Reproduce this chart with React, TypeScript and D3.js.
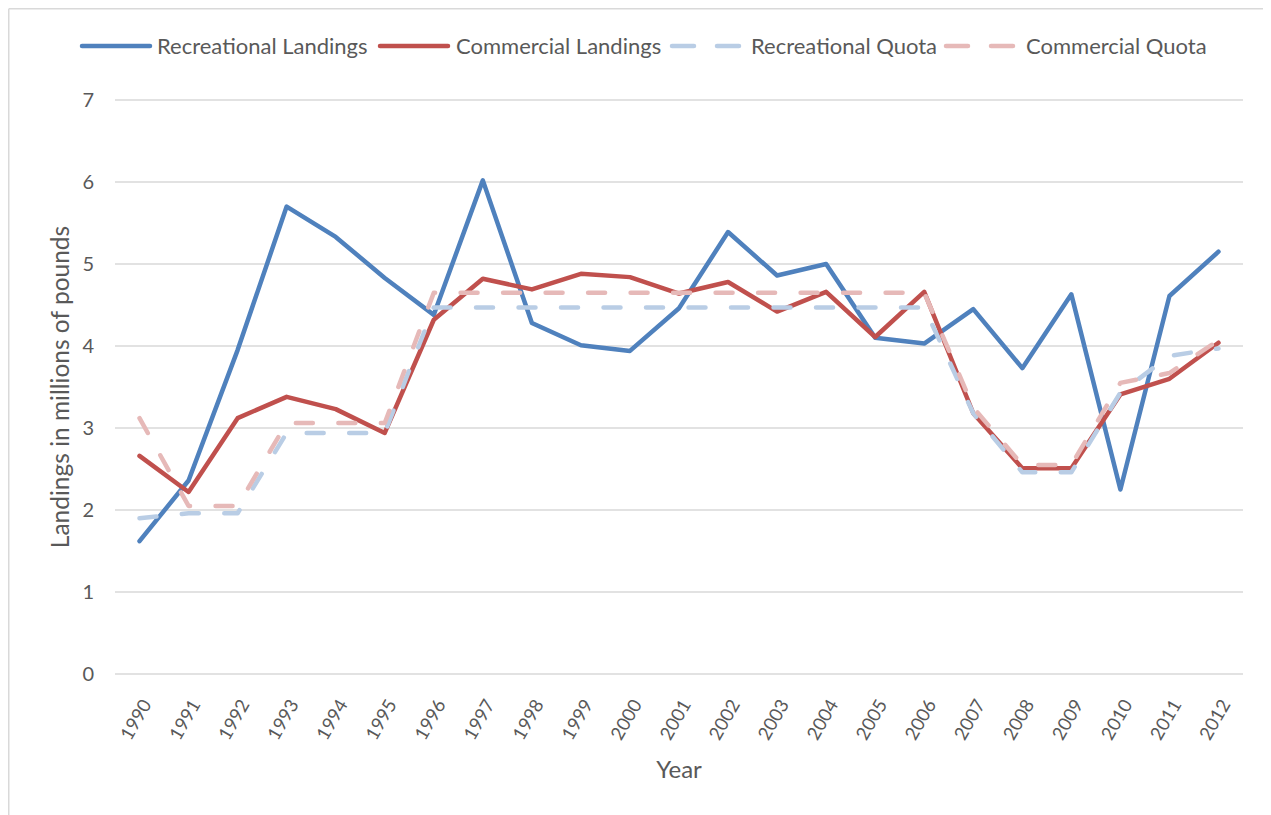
import React from "react";
import * as d3 from "d3";

const years = ["1990","1991","1992","1993","1994","1995","1996","1997","1998","1999","2000","2001","2002","2003","2004","2005","2006","2007","2008","2009","2010","2011","2012"];
const recreationalLandings = [1.62,2.36,3.95,5.70,5.33,4.83,4.38,6.02,4.28,4.01,3.94,4.46,5.39,4.86,5.00,4.10,4.03,4.45,3.73,4.63,2.25,4.61,5.15];
const commercialLandings = [2.66,2.22,3.12,3.38,3.23,2.94,4.32,4.82,4.69,4.88,4.84,4.64,4.78,4.42,4.66,4.11,4.66,3.18,2.51,2.51,3.41,3.60,4.04];
const recreationalQuota = [1.90,1.96,1.96,2.94,2.94,2.94,4.47,4.47,4.47,4.47,4.47,4.47,4.47,4.47,4.47,4.47,4.47,3.18,2.46,2.46,3.43,3.88,3.97];
const commercialQuota = [3.12,2.05,2.05,3.06,3.06,3.06,4.65,4.65,4.65,4.65,4.65,4.65,4.65,4.65,4.65,4.65,4.65,3.25,2.55,2.55,3.55,3.67,4.07];
const yTicks = [0,1,2,3,4,5,6,7];

const seriesNames = ["Recreational Landings","Commercial Landings","Recreational Quota","Commercial Quota"];
const seriesValues = [recreationalLandings, commercialLandings, recreationalQuota, commercialQuota];
const seriesColors = ["#4F81BD","#C0504D","#B9CDE5","#E6B9B8"];
const seriesDashed = [false,false,true,true];

const W = 1263, H = 807;
const FONT = "Lato, 'Open Sans', sans-serif";
const TEXT = "#595959";

export default function App() {
  const left = 107, right = 1235, top = 92, bottom = 666;
  const x = d3.scalePoint<string>().domain(years).range([left, right]).padding(0.5);
  const y = d3.scaleLinear().domain([0, 7]).range([bottom, top]);
  const line = d3.line<number>().x((_, i) => x(years[i]) as number).y(d => y(d));

  const legendX = [74, 372, 664, 938];
  const legendTextX = [149, 448, 743, 1018];
  const legendY = 38;
  const dash = "17 25.5";

  return (
    <svg width={W} height={H} style={{ display: "block" }} fontFamily={FONT}>
      <rect width={W} height={H} fill="#fff" />
      <line x1={0.75} y1={0.75} x2={W} y2={0.75} stroke="#D9D9D9" strokeWidth={1.5} />
      <line x1={0.75} y1={0.75} x2={0.75} y2={H} stroke="#D9D9D9" strokeWidth={1.5} />
      {yTicks.map(t => (
        <g key={t}>
          <line x1={left} x2={right} y1={y(t)} y2={y(t)} stroke="#D9D9D9" strokeWidth={1.5} />
          <text x={left - 21} y={y(t)} dy="0.35em" textAnchor="end" fontSize={20} fill={TEXT}>{t}</text>
        </g>
      ))}
      {years.map(yr => (
        <text key={yr} transform={`translate(${(x(yr) as number) + 7},${bottom + 27}) rotate(-60)`} dy="0.35em" textAnchor="end" fontSize={18.5} fill={TEXT}>{yr}</text>
      ))}
      <text x={(left + right) / 2} y={770} textAnchor="middle" fontSize={24} fill={TEXT}>Year</text>
      <text transform={`translate(52,${(top + bottom) / 2}) rotate(-90)`} dy="0.35em" textAnchor="middle" fontSize={24.5} fill={TEXT}>Landings in millions of pounds</text>
      {seriesValues.map((vals, i) => (
        <path key={i} d={line(vals) as string} fill="none" stroke={seriesColors[i]} strokeWidth={4.5}
          strokeLinejoin="round" strokeLinecap="round" strokeDasharray={seriesDashed[i] ? dash : undefined} />
      ))}
      {seriesNames.map((name, i) => (
        <g key={name}>
          <line x1={legendX[i]} x2={legendX[i] + 68} y1={legendY} y2={legendY} stroke={seriesColors[i]} strokeWidth={4.5}
            strokeLinecap="round" strokeDasharray={seriesDashed[i] ? "22 23" : undefined} />
          <text x={legendTextX[i]} y={legendY} dy="0.35em" fontSize={22} fill={TEXT}>{name}</text>
        </g>
      ))}
    </svg>
  );
}
